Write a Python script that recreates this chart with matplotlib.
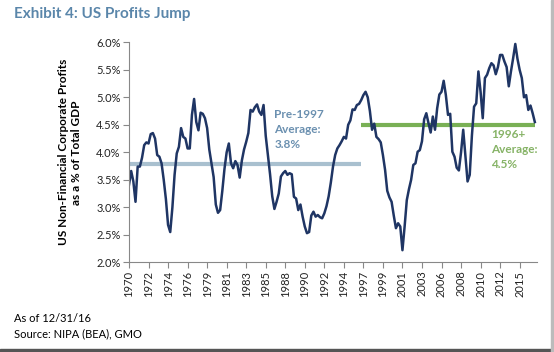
import numpy as np
import matplotlib.pyplot as plt
from matplotlib.patches import Rectangle

# квартальные данные 1970Q1 .. 2016Q4, % от ВВП
profits = [
    3.41, 3.66, 3.47, 3.10, 3.74, 3.74, 3.90, 4.13, 4.18, 4.16,
    4.33, 4.35, 4.25, 3.95, 3.92, 3.80, 3.50, 3.15, 2.68, 2.55,
    3.00, 3.59, 3.98, 4.10, 4.44, 4.28, 4.25, 4.07, 4.07, 4.68,
    4.97, 4.55, 4.40, 4.72, 4.70, 4.62, 4.44, 4.05, 3.80, 3.55,
    3.05, 2.90, 2.95, 3.30, 3.70, 4.00, 4.16, 3.80, 3.71, 3.84,
    3.77, 3.54, 3.85, 4.05, 4.19, 4.35, 4.77, 4.74, 4.82, 4.87,
    4.74, 4.68, 4.86, 4.30, 3.95, 3.60, 3.20, 2.97, 3.10, 3.25,
    3.56, 3.62, 3.66, 3.59, 3.62, 3.60, 3.19, 3.16, 2.95, 3.05,
    2.83, 2.65, 2.53, 2.55, 2.85, 2.92, 2.83, 2.86, 2.82, 2.80,
    2.89, 3.02, 3.20, 3.45, 3.74, 3.95, 4.07, 4.13, 4.20, 4.28,
    4.25, 4.50, 4.58, 4.78, 4.77, 4.86, 4.88, 4.95, 5.04, 5.10,
    5.00, 4.75, 4.41, 4.52, 4.28, 4.24, 4.18, 3.95, 3.68, 3.30,
    3.18, 3.10, 2.85, 2.62, 2.71, 2.65, 2.22, 2.65, 3.13, 3.33,
    3.50, 3.77, 3.80, 4.01, 4.04, 4.20, 4.60, 4.71, 4.53, 4.36,
    4.65, 4.41, 4.80, 5.05, 5.10, 5.30, 5.04, 4.68, 4.70, 4.01,
    3.92, 3.72, 3.67, 4.00, 4.41, 3.95, 3.47, 3.59, 4.30, 4.83,
    4.89, 5.47, 5.10, 4.62, 5.35, 5.41, 5.53, 5.62, 5.58, 5.42,
    5.55, 5.77, 5.77, 5.65, 5.55, 5.20, 5.47, 5.71, 5.97, 5.70,
    5.50, 5.35, 5.00, 5.04, 4.77, 4.85, 4.71, 4.55,
]

# средние значения и их интервалы (индексы кварталов)
pre_avg = 3.78
pre_span = [0, 107]
post_avg = 4.50
post_span = [107, 187]

tick_pos = list(range(0, 181, 9))
tick_labels = ['1970', '1972', '1974', '1976', '1979', '1981', '1983',
               '1985', '1988', '1990', '1992', '1994', '1997', '1999',
               '2001', '2003', '2006', '2008', '2010', '2012', '2015']

navy = '#1f3564'
blue_avg = '#a9c0cf'
green_avg = '#79b055'
title_col = '#5a86aa'
pre_text_col = '#6b90b0'
post_text_col = '#86b366'

plt.rcParams['font.family'] = ['Lato', 'DejaVu Sans']

fig = plt.figure(figsize=(5.54, 3.52), dpi=100)
ax = fig.add_axes([129 / 554, 1 - 262.3 / 352, 408 / 554, 220 / 352])

x = np.arange(len(profits))
ax.plot(pre_span, [pre_avg, pre_avg], color=blue_avg, lw=3, solid_capstyle='butt', zorder=1)
ax.plot(post_span, [post_avg, post_avg], color=green_avg, lw=3, solid_capstyle='butt', zorder=1)
ax.plot(x, profits, color=navy, lw=1.8, zorder=2)

ax.text(67, 4.78, 'Pre-1997\nAverage:\n3.8%', color=pre_text_col, fontsize=8.5,
        fontweight='bold', va='top', ha='left', linespacing=1.45)
ax.text(167, 4.42, '1996+\nAverage:\n4.5%', color=post_text_col, fontsize=8.5,
        fontweight='bold', va='top', ha='left', linespacing=1.45)

ax.set_xlim(0, 188)
ax.set_ylim(2.0, 6.0)
ax.set_yticks(np.arange(2.0, 6.01, 0.5))
ax.set_yticklabels([f'{v:.1f}%' for v in np.arange(2.0, 6.01, 0.5)], fontsize=8)
ax.set_xticks(tick_pos)
ax.set_xticklabels(tick_labels, rotation=90, fontsize=8)
ax.tick_params(axis='both', direction='out', length=4, color='#888888', width=0.8, pad=2,
               labelcolor='#222222')

for s in ['top', 'right']:
    ax.spines[s].set_visible(False)
for s in ['left', 'bottom']:
    ax.spines[s].set_color('#888888')
    ax.spines[s].set_linewidth(0.8)

ax.set_ylabel('US Non-Financial Corporate Profits\nas a % of Total GDP', fontsize=8.5,
              fontweight='bold', labelpad=10)

fig.text(14 / 554, 1 - 14 / 352, 'Exhibit 4: US Profits Jump', color=title_col,
         fontsize=11, fontweight='bold', va='center', ha='left')
fig.text(14 / 554, 1 - 318 / 352, 'As of 12/31/16', fontsize=8, va='center', ha='left')
fig.text(14 / 554, 1 - 334 / 352, 'Source: NIPA (BEA), GMO', fontsize=8, va='center', ha='left')

# тень рамки снизу и справа
fig.patches.append(Rectangle((0, 0), 1, 3 / 352, transform=fig.transFigure,
                             color='#555555', zorder=0))
fig.patches.append(Rectangle((1 - 3 / 554, 0), 3 / 554, 1, transform=fig.transFigure,
                             color='#bbbbbb', zorder=0))

plt.savefig('out.png', dpi=100)
